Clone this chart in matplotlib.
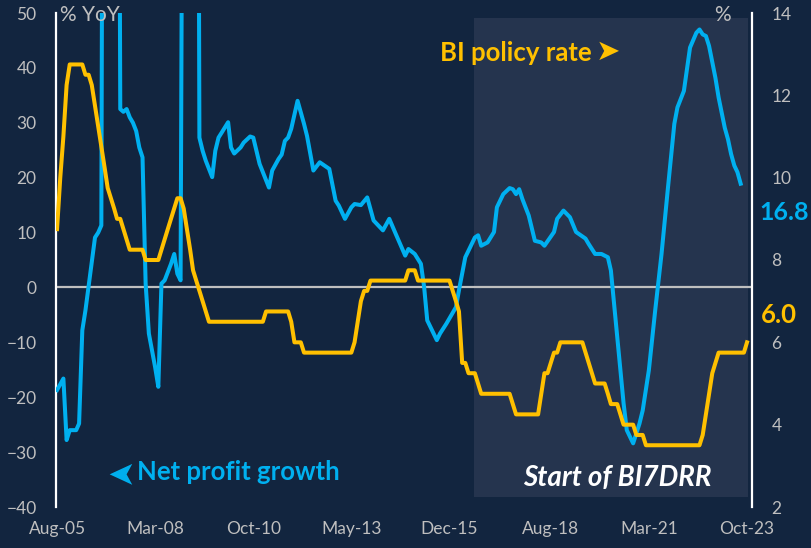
import pandas as pd
import matplotlib
matplotlib.use("Agg")
import matplotlib.pyplot as plt
import matplotlib.dates as mdates

BG = "#12253F"
SHADE = "#25344E"
BLUE = "#00B0F0"
YELLOW = "#FFC000"
GREY = "#BFBFBF"

# BI policy rate (%), monthly from Aug-05 to Oct-23 -> right axis
bi_rate = [
    8.75, 10.0, 11.0, 12.25, 12.75,                                          # 2005 Aug-Dec
    12.75, 12.75, 12.75, 12.75, 12.5, 12.5, 12.25, 11.75, 11.25, 10.75, 10.25, 9.75,  # 2006
    9.5, 9.25, 9.0, 9.0, 8.75, 8.5, 8.25, 8.25, 8.25, 8.25, 8.25, 8.0,      # 2007
    8.0, 8.0, 8.0, 8.0, 8.25, 8.5, 8.75, 9.0, 9.25, 9.5, 9.5, 9.25,         # 2008
    8.75, 8.25, 7.75, 7.5, 7.25, 7.0, 6.75, 6.5, 6.5, 6.5, 6.5, 6.5,        # 2009
    6.5, 6.5, 6.5, 6.5, 6.5, 6.5, 6.5, 6.5, 6.5, 6.5, 6.5, 6.5,             # 2010
    6.5, 6.75, 6.75, 6.75, 6.75, 6.75, 6.75, 6.75, 6.75, 6.5, 6.0, 6.0,     # 2011
    6.0, 5.75, 5.75, 5.75, 5.75, 5.75, 5.75, 5.75, 5.75, 5.75, 5.75, 5.75,  # 2012
    5.75, 5.75, 5.75, 5.75, 5.75, 6.0, 6.5, 7.0, 7.25, 7.25, 7.5, 7.5,      # 2013
    7.5, 7.5, 7.5, 7.5, 7.5, 7.5, 7.5, 7.5, 7.5, 7.5, 7.75, 7.75,           # 2014
    7.75, 7.5, 7.5, 7.5, 7.5, 7.5, 7.5, 7.5, 7.5, 7.5, 7.5, 7.5,            # 2015
    7.25, 7.0, 6.75, 5.5, 5.5, 5.25, 5.25, 5.25, 5.0, 4.75, 4.75, 4.75,     # 2016
    4.75, 4.75, 4.75, 4.75, 4.75, 4.75, 4.75, 4.5, 4.25, 4.25, 4.25, 4.25,  # 2017
    4.25, 4.25, 4.25, 4.25, 4.75, 5.25, 5.25, 5.5, 5.75, 5.75, 6.0, 6.0,    # 2018
    6.0, 6.0, 6.0, 6.0, 6.0, 6.0, 5.75, 5.5, 5.25, 5.0, 5.0, 5.0,           # 2019
    5.0, 4.75, 4.5, 4.5, 4.5, 4.25, 4.0, 4.0, 4.0, 4.0, 3.75, 3.75,         # 2020
    3.75, 3.5, 3.5, 3.5, 3.5, 3.5, 3.5, 3.5, 3.5, 3.5, 3.5, 3.5,            # 2021
    3.5, 3.5, 3.5, 3.5, 3.5, 3.5, 3.5, 3.75, 4.25, 4.75, 5.25, 5.5,         # 2022
    5.75, 5.75, 5.75, 5.75, 5.75, 5.75, 5.75, 5.75, 5.75, 6.0,              # 2023 Jan-Oct
]

# net profit growth (% YoY), months counted from Aug-05 -> left axis
profit_month = [0, 2, 3, 4, 6, 7, 8, 9, 12, 13, 14, 15, 16, 17, 18, 19,
                20, 21, 22, 23, 24, 25, 26, 27, 28, 29, 31, 32, 33, 34, 36, 37,
                38, 39, 40, 41, 42, 43, 44, 45, 46, 47, 49, 50, 51, 52, 54, 55,
                56, 58, 59, 61, 62, 64, 66, 67, 68, 70, 71, 72, 73, 74, 76, 78,
                79, 81, 83, 85, 86, 88, 89, 91, 93, 94, 96, 98, 100, 103, 105, 107,
                110, 111, 113, 115, 116, 117, 120, 121, 123, 126, 127, 129, 132, 133, 134, 136,
                138, 139, 141, 143, 144, 145, 146, 147, 149, 151, 153, 154, 157, 158, 160, 162,
                164, 167, 168, 170, 172, 174, 175, 177, 179, 180, 182, 184, 185, 187, 189, 191,
                193, 195, 196, 198, 199, 200, 202, 203, 204, 205, 206, 208, 209, 211, 212, 213,
                214, 215, 216]
profit_growth = [-18.7, -16.6, -27.8, -26.0, -26.0, -24.8, -7.8, -4.2, 9.1, 10.0, 11.3, 230, 280, 300, 260, 200,
                 32.5, 32.0, 32.5, 31.0, 30.0, 28.5, 25.5, 23.7, 0.7, -8.4, -14.5, -18.1, 0.7, 1.3, 4.3, 6.1,
                 2.5, 1.3, 150, 260, 310, 280, 220, 27.3, 24.9, 23.1, 20.1, 24.9, 27.3, 28.2, 30.1, 25.5,
                 24.4, 25.5, 26.4, 27.5, 27.3, 22.5, 19.5, 18.2, 21.3, 23.4, 24.2, 26.7, 27.3, 28.9, 34.0, 29.8,
                 27.6, 21.3, 22.8, 22.0, 21.6, 15.8, 14.9, 12.5, 14.6, 15.2, 15.0, 16.4, 12.2, 10.4, 12.5, 9.8,
                 5.8, 7.0, 6.1, 4.3, 0.1, -6.0, -9.6, -8.4, -6.6, -3.6, -0.5, 5.5, 9.1, 9.5, 7.6, 8.2,
                 10.1, 14.6, 17.0, 18.1, 17.9, 17.0, 17.9, 16.1, 13.1, 8.5, 8.2, 7.6, 10.1, 12.5, 14.0, 12.8,
                 10.1, 8.9, 7.9, 6.1, 6.1, 5.5, 3.1, -9.0, -21.1, -26.0, -28.4, -24.8, -22.4, -15.1, -4.2, 6.1,
                 18.2, 29.8, 32.8, 35.8, 39.5, 43.7, 46.4, 47.0, 46.1, 45.8, 44.0, 38.2, 34.6, 29.1, 27.0, 24.3,
                 22.2, 21.0, 18.9]

tick_dates = ["2005-08-01", "2008-03-01", "2010-10-01", "2013-05-01",
              "2015-12-01", "2018-08-01", "2021-03-01", "2023-10-01"]
tick_labels = ["Aug-05", "Mar-08", "Oct-10", "May-13", "Dec-15", "Aug-18", "Mar-21", "Oct-23"]

start = pd.Timestamp("2005-08-01")
rate_dates = pd.date_range(start, periods=len(bi_rate), freq="MS")
profit_dates = [start + pd.DateOffset(months=m) for m in profit_month]

plt.rcParams["font.family"] = ["Lato", "DejaVu Sans"]
fig = plt.figure(figsize=(8.11, 5.48), dpi=100, facecolor=BG)
ax = fig.add_axes([56 / 811, 41 / 548, 696 / 811, 494 / 548])
ax.set_facecolor(BG)
ax2 = ax.twinx()
ax2.patch.set_visible(False)

# BI7DRR period shading
ax.axvspan(pd.Timestamp("2016-07-24"), pd.Timestamp("2023-10-10"), ymin=0.02, ymax=0.99,
           color=SHADE, lw=0, zorder=0)
ax.axhline(0, color=GREY, lw=1.6, zorder=1)
ax.plot(profit_dates, profit_growth, color=BLUE, lw=2.9, zorder=3, solid_joinstyle="round")
ax2.plot(rate_dates, bi_rate, color=YELLOW, lw=2.9, solid_joinstyle="round")

ax.set_xlim(pd.Timestamp("2005-07-22"), pd.Timestamp("2023-11-18"))
ax.set_ylim(-40, 50)
ax.set_yticks(range(-40, 51, 10))
ax2.set_ylim(2, 14)
ax2.set_yticks(range(2, 15, 2))
ax.set_xticks(pd.to_datetime(tick_dates))
ax.set_xticklabels(tick_labels)

for a in (ax, ax2):
    for s in a.spines.values():
        s.set_visible(False)
ax.spines["left"].set_visible(True)
ax.spines["left"].set_color("white")
ax.spines["left"].set_linewidth(1.6)
ax2.spines["right"].set_visible(True)
ax2.spines["right"].set_color("white")
ax2.spines["right"].set_linewidth(1.6)

ax.tick_params(axis="y", length=0, pad=14, labelcolor=GREY, labelsize=12.5)
ax.tick_params(axis="x", length=0, pad=10, labelcolor=GREY, labelsize=12.5)
ax2.tick_params(axis="y", length=0, pad=14, labelcolor=GREY, labelsize=12.5)

def px(x, y):
    return x / 811, 1 - y / 548

fig.text(*px(60, 15), "% YoY", color=GREY, fontsize=15, ha="left", va="center")
fig.text(*px(722, 15), "%", color=GREY, fontsize=15, ha="center", va="center")
fig.text(*px(440, 53), "BI policy rate", color=YELLOW, fontsize=18.5, fontweight="bold",
         ha="left", va="center")
fig.text(*px(608, 52), "➤", color=YELLOW, fontsize=21, ha="center", va="center",
         family=["DejaVu Sans"])
fig.text(*px(129, 472), "➤", color=BLUE, fontsize=24, rotation=180, ha="right", va="center",
         family=["DejaVu Sans"])
fig.text(*px(137, 472), "Net profit growth", color=BLUE, fontsize=18.5, fontweight="bold",
         ha="left", va="center")
fig.text(*px(523, 478), "Start of BI7DRR", color="white", fontsize=20, fontweight="bold",
         style="italic", ha="left", va="center")
fig.text(*px(784, 213), "16.8", color=BLUE, fontsize=18, fontweight="bold", ha="center", va="center")
fig.text(*px(779, 315), "6.0", color=YELLOW, fontsize=18.5, fontweight="bold", ha="center", va="center")

fig.savefig("out.png", dpi=100, facecolor=BG)
